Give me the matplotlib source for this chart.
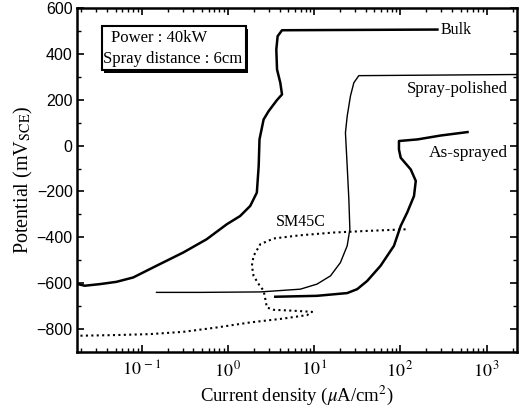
import matplotlib
matplotlib.use("Agg")
import matplotlib.pyplot as plt
from matplotlib.patches import Rectangle
from matplotlib.ticker import LogLocator, FuncFormatter, MultipleLocator
import numpy as np

plt.rcParams['font.family'] = ['Liberation Serif', 'DejaVu Serif']
plt.rcParams['mathtext.fontset'] = 'stix'

# current density (uA/cm2) and potential (mV SCE)
bulk_i = [0.0184, 0.0219, 0.0328, 0.0512, 0.080, 0.149, 0.305, 0.570, 0.973, 1.39,
          1.82, 2.17, 2.28, 2.33, 2.60, 2.97, 3.72, 4.25, 4.06, 3.72, 3.65, 3.78, 4.25, 269]
bulk_e = [-604, -611, -604, -594, -575, -524, -466, -408, -343, -307,
          -263, -205, -89, 27, 114, 150, 199, 223, 274, 332, 419, 477, 503, 506]

polished_i = [0.149, 0.476, 2.38, 6.93, 10.8, 15.5, 20.2, 24.2, 26.0, 25.3,
              24.2, 23.1, 24.2, 26.4, 28.9, 33.0, 2300]
polished_e = [-640, -640, -638, -626, -604, -568, -510, -437, -365, -234,
              -89, 56, 128, 216, 274, 305, 310]

sprayed_i = [3.55, 10.8, 24.2, 31.6, 41.3, 59.0, 84.3, 101, 120, 144,
             151, 132, 101, 96.4, 96.4, 158, 294, 601]
sprayed_e = [-659, -655, -643, -626, -590, -524, -437, -350, -292, -220,
             -154, -104, -53, -17, 20, 27, 44, 59]

sm45c_i = [115, 41.3, 16.9, 6.93, 3.40, 2.38, 1.99, 1.90, 1.99, 2.28, 2.60, 2.72,
           2.84, 3.40, 5.81, 9.48, 8.30, 4.44, 1.82, 0.744, 0.305, 0.125, 0.0512, 0.0192]
sm45c_e = [-365, -372, -379, -391, -405, -430, -481, -524, -568, -604, -633, -669,
           -706, -716, -720, -725, -739, -754, -771, -793, -812, -822, -826, -829]

fig = plt.figure(figsize=(5.23, 4.12), dpi=100)
ax = fig.add_axes([0.147, 0.1456, 0.8415, 0.835])

ax.plot(bulk_i, bulk_e, color='black', lw=1.8)
ax.plot(polished_i, polished_e, color='black', lw=1.0)
ax.plot(sprayed_i, sprayed_e, color='black', lw=1.8)
ax.plot(sm45c_i, sm45c_e, color='black', lw=1.5, ls=(0, (1, 1.6)))

ax.set_xscale('log')
ax.set_xlim(0.0178, 2250)
ax.set_ylim(-900, 600)


def pow10(v, pos):
    return r'$10^{\,%d}$' % int(round(np.log10(v)))


ax.xaxis.set_major_locator(LogLocator(base=10, numticks=10))
ax.xaxis.set_major_formatter(FuncFormatter(pow10))
ax.xaxis.set_minor_locator(LogLocator(base=10, subs=range(2, 10), numticks=20))
ax.yaxis.set_major_locator(MultipleLocator(200))
ax.yaxis.set_minor_locator(MultipleLocator(100))

ax.tick_params(which='both', direction='in', top=True, right=True)
ax.tick_params(which='major', length=5, width=1.2)
ax.tick_params(which='minor', length=3, width=1.0)
ax.tick_params(axis='x', labelsize=13, pad=6)
ax.tick_params(axis='y', labelsize=11.5, pad=3)
for lab in ax.get_yticklabels():
    lab.set_fontfamily('Liberation Sans')
for sp in ax.spines.values():
    sp.set_linewidth(1.8)

ax.set_xlabel(r'Current density ($\mu$A/cm$^2$)', fontsize=13.5, labelpad=2)
ax.set_ylabel(r'Potential (mV$_{\rm SCE}$)', fontsize=14.5, labelpad=1)

ax.text(290, 506, 'Bulk', fontsize=11.5, va='center')
ax.text(118, 245, 'Spray-polished', fontsize=12, va='center')
ax.text(212, -31, 'As-sprayed', fontsize=12.5, va='center')
ax.text(3.65, -333, 'SM45C', fontsize=11.5, va='center')

# condition box with drop shadow
ax.add_patch(Rectangle((0.062, 0.812), 0.327, 0.127, transform=ax.transAxes,
                       fc='black', ec='black', lw=0, zorder=4))
ax.add_patch(Rectangle((0.057, 0.820), 0.327, 0.127, transform=ax.transAxes,
                       fc='white', ec='black', lw=1.5, zorder=5))
ax.text(0.078, 0.913, 'Power : 40kW', transform=ax.transAxes, fontsize=12,
        va='center', zorder=6)
ax.text(0.059, 0.852, 'Spray distance : 6cm', transform=ax.transAxes, fontsize=12,
        va='center', zorder=6)

fig.savefig('out.png', dpi=100)
